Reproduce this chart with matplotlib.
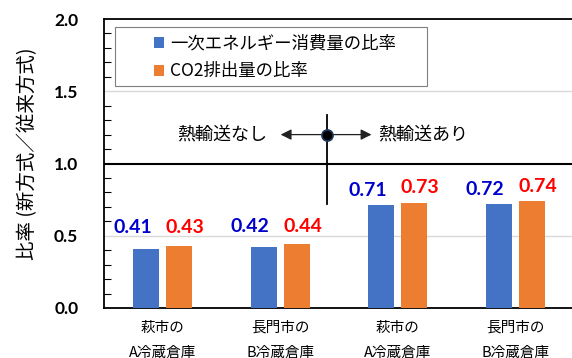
import numpy as np
import matplotlib.pyplot as plt
from matplotlib.patches import Rectangle

plt.rcParams['font.family'] = ['Noto Sans CJK JP', 'DejaVu Sans']

categories = ['萩市の\nA冷蔵倉庫', '長門市の\nB冷蔵倉庫', '萩市の\nA冷蔵倉庫', '長門市の\nB冷蔵倉庫']
energy = [0.41, 0.42, 0.71, 0.72]
co2 = [0.43, 0.44, 0.73, 0.74]
series_names = ['一次エネルギー消費量の比率', 'CO2排出量の比率']
yticks = [0.0, 0.5, 1.0, 1.5, 2.0]

fig = plt.figure(figsize=(5.72, 3.58), dpi=100)
ax = fig.add_axes([104/572, 50/358, 470/572, 289/358])

x = np.arange(len(categories))
w = 0.22
ax.bar(x - 0.14, energy, w, color='#4472C4', label=series_names[0], zorder=3)
ax.bar(x + 0.14, co2, w, color='#ED7D31', label=series_names[1], zorder=3)

# value labels (first two groups sit higher above bars)
offs = [0.15, 0.145, 0.105, 0.10]
for i in range(len(x)):
    ax.text(x[i] - 0.255, energy[i] + offs[i], f'{energy[i]:.2f}', color='#0000CC',
            ha='center', va='center', fontsize=14, fontweight='bold', family='Lato')
    ax.text(x[i] + 0.19, co2[i] + offs[i] - (0.02 if i < 2 else 0.0), f'{co2[i]:.2f}', color='#FF0000',
            ha='center', va='center', fontsize=14, fontweight='bold', family='Lato')

ax.set_xlim(-0.5, 3.5)
ax.set_ylim(0, 2.0)
ax.set_yticks(yticks)
ax.set_yticklabels([f'{v:.1f}' for v in yticks], fontsize=12.5, fontweight='bold', family='Lato')
ax.set_yticks(np.arange(0, 2.01, 0.1), minor=True)
ax.tick_params(axis='y', which='major', length=0, pad=18.5)
ax.tick_params(axis='y', which='minor', direction='in', length=5, width=0.8)
ax.set_xticks(x)
ax.set_xticklabels(categories, fontsize=10.5, linespacing=2.0)
ax.tick_params(axis='x', length=0, pad=9)

for v in [0.5, 1.5]:
    ax.axhline(v, color='#d9d9d9', lw=1, zorder=1)
ax.axhline(1.0, color='black', lw=1.5, zorder=2)

for s in ['left', 'top', 'bottom']:
    ax.spines[s].set_linewidth(1.3)
ax.spines['right'].set_visible(False)

ax.set_ylabel('比率 (新方式／従来方式)', fontsize=14)
ax.yaxis.set_label_coords(-0.141, 0.533)

# heat transfer marker
ax.plot([1.4, 1.4], [0.72, 1.335], color='black', lw=1.3, zorder=4)
ax.annotate('', xy=(0.98, 1.2), xytext=(1.4, 1.2),
            arrowprops=dict(arrowstyle='-|>', color='#222222', lw=0.9, mutation_scale=16), zorder=4)
ax.annotate('', xy=(1.8, 1.2), xytext=(1.4, 1.2),
            arrowprops=dict(arrowstyle='-|>', color='#222222', lw=0.9, mutation_scale=16), zorder=4)
ax.plot(1.4, 1.2, 'o', ms=8, color='black', mec='#1f3864', mew=1.2, zorder=5)
ax.text(0.89, 1.2, '熱輸送なし', ha='right', va='center', fontsize=13)
ax.text(1.83, 1.2, '熱輸送あり', ha='left', va='center', fontsize=13)

# legend frame drawn separately, entries placed inside it
ax.add_patch(Rectangle((11/470, 0.768), 312/470, 0.204, transform=ax.transAxes,
                       facecolor='white', edgecolor='#7f7f7f', lw=0.8, zorder=6))
leg = ax.legend(loc='upper left', bbox_to_anchor=(42/470, 0.972), fontsize=12.5,
                frameon=False, handlelength=0.6, handleheight=0.6, handletextpad=0.35,
                labelspacing=0.55, borderpad=0.45, borderaxespad=0)
leg.set_zorder(7)

fig.savefig('out.png', dpi=100)
